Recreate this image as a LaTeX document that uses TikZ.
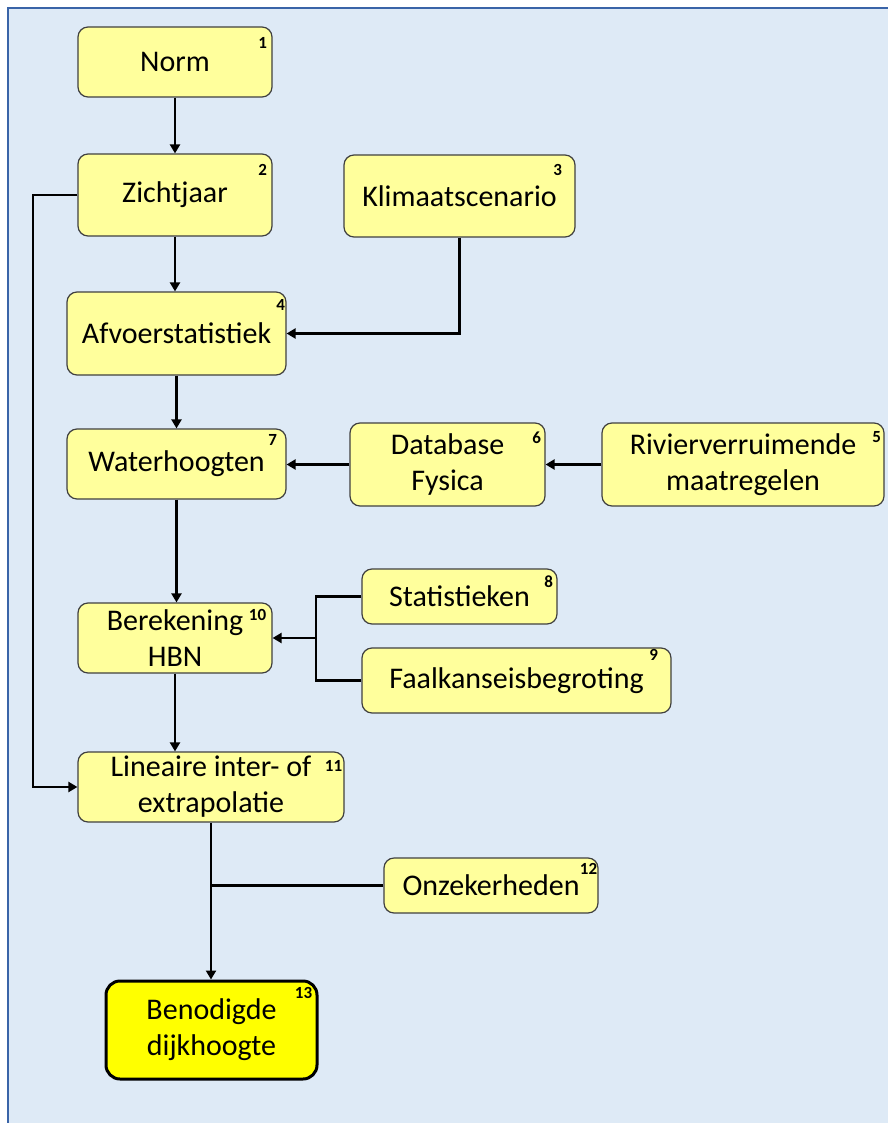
\documentclass[tikz,border=0pt]{standalone}
\usepackage{fontspec}
\setmainfont{Carlito}
\usetikzlibrary{arrows.meta}
\definecolor{bgblue}{HTML}{DEEAF6}
\definecolor{panelline}{HTML}{3A64A8}
\definecolor{boxfill}{HTML}{FFFF9C}
\definecolor{boxline}{HTML}{404040}
\definecolor{finalfill}{HTML}{FFFF00}
\tikzset{
  box/.style={draw=boxline, fill=boxfill, line width=1.2pt, rounded corners=10pt,
    inner sep=0pt, align=center, font=\fontsize{30}{36}\selectfont},
  finalbox/.style={box, draw=black, fill=finalfill, line width=3pt, rounded corners=14pt},
  num/.style={inner sep=0pt, font=\fontsize{17}{17}\selectfont\bfseries},
  conn/.style={line width=2.3pt, draw=black},
  arr/.style={conn, -{Triangle[length=9pt,width=10pt]}},
}
\begin{document}
\begin{tikzpicture}[x=1pt,y=-1pt]
\useasboundingbox (0,0) rectangle (887,1123);
\fill[bgblue] (8,8) rectangle (895,1130);
\draw[panelline, line width=2pt] (8,1130) -- (8,8) -- (895,8);

% boxes
\node[box, minimum width=194pt, minimum height=70pt] (b1) at (175,62) {Norm};
\node[box, minimum width=194pt, minimum height=82pt] (b2) at (175,195) {Zichtjaar};
\node[box, minimum width=231pt, minimum height=82pt] (b3) at (459.5,196) {Klimaatscenario};
\node[box, minimum width=219pt, minimum height=83pt] (b4) at (176.5,333.5) {Afvoerstatistiek};
\node[box, minimum width=282pt, minimum height=83pt] (b5) at (743,464.5) {Rivierverruimende\\maatregelen};
\node[box, minimum width=195pt, minimum height=83pt] (b6) at (447.5,464.5) {Database\\Fysica};
\node[box, minimum width=219pt, minimum height=70pt] (b7) at (176.5,464) {Waterhoogten};
\node[box, minimum width=195pt, minimum height=55pt] (b8) at (459.5,596.5) {Statistieken};
\node[box, minimum width=309pt, minimum height=65pt] (b9) at (516.5,680.5) {Faalkanseisbegroting};
\node[box, minimum width=194pt, minimum height=70pt] (b10) at (175,638) {Berekening\\HBN};
\node[box, minimum width=266pt, minimum height=70pt] (b11) at (211,787) {Lineaire inter- of\\extrapolatie};
\node[box, minimum width=214pt, minimum height=55pt] (b12) at (491,885.5) {Onzekerheden};
\node[finalbox, minimum width=211pt, minimum height=98pt] (b13) at (211.5,1030) {Benodigde\\dijkhoogte};

% numbers
\node[num] (n1) at ([shift={(-10,17)}]b1.north east) {1};
\node[num] (n2) at ([shift={(-10,17)}]b2.north east) {2};
\node[num] (n3) at ([shift={(-18,16)}]b3.north east) {3};
\node[num] (n4) at ([shift={(-6,14)}]b4.north east) {4};
\node[num] (n5) at ([shift={(-8,15)}]b5.north east) {5};
\node[num] (n6) at ([shift={(-9,15)}]b6.north east) {6};
\node[num] (n7) at ([shift={(-14,12)}]b7.north east) {7};
\node[num] (n8) at ([shift={(-9,13)}]b8.north east) {8};
\node[num] (n9) at ([shift={(-18,8)}]b9.north east) {9};
\node[num] (n10) at ([shift={(-15,13)}]b10.north east) {10};
\node[num] (n11) at ([shift={(-11,15)}]b11.north east) {11};
\node[num] (n12) at ([shift={(-10,12)}]b12.north east) {12};
\node[num] (n13) at ([shift={(-15,13)}]b13.north east) {13};

% helper coordinates
\coordinate (jl) at (33,0);
\coordinate (jr) at (316,0);

% connectors
\draw[arr] (b1.south) -- (b1.south |- b2.north);
\draw[arr] (b2.south) -- (b2.south |- b4.north);
\draw[arr] (b3.south) |- (b4.east);
\draw[arr] (b4.south) -- (b4.south |- b7.north);
\draw[arr] (b6.west) -- (b6.west -| b7.east);
\draw[arr] (b5.west) -- (b5.west -| b6.east);
\draw[arr] (b7.south) -- (b7.south |- b10.north);
\draw[conn] (b8.west) -| (jr |- b10.east);
\draw[conn] (b9.west) -| (jr |- b10.east);
\draw[arr] (jr |- b10.east) -- (b10.east);
\draw[arr] (b10.south) -- (b10.south |- b11.north);
\draw[arr] (b2.west) -- (b2.west -| jl) |- (b11.west);
\draw[arr] (b11.south) -- (b11.south |- b13.north);
\draw[conn] (b12.west) -- (b12.west -| b11.south);
\end{tikzpicture}
\end{document}
